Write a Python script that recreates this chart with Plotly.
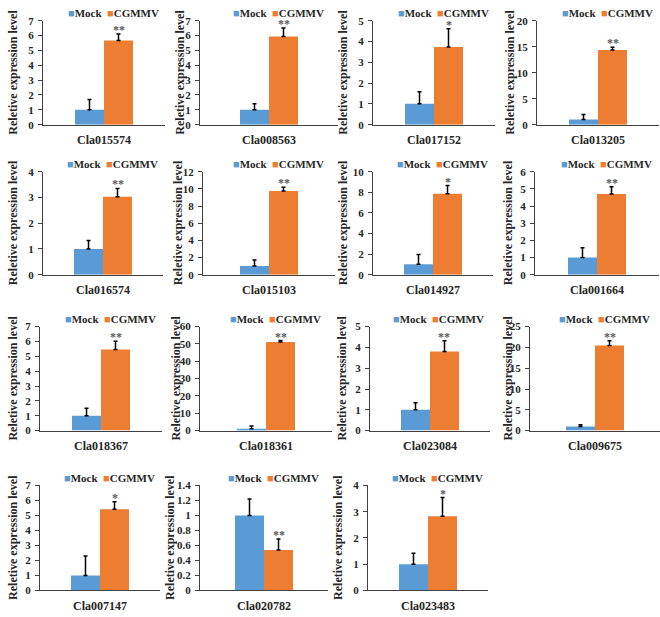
import plotly.graph_objects as go

genes = ["Cla015574", "Cla008563", "Cla017152", "Cla013205",
         "Cla016574", "Cla015103", "Cla014927", "Cla001664",
         "Cla018367", "Cla018361", "Cla023084", "Cla009675",
         "Cla007147", "Cla020782", "Cla023483"]
mock = [1, 1, 1, 1, 1, 1, 1, 1, 1, 1, 1, 1, 1, 1, 1]
mock_err = [0.7, 0.41, 0.58, 0.95, 0.33, 0.7, 0.95, 0.57, 0.5, 1.7, 0.34, 0.4, 1.3, 0.22, 0.42]
cgmmv = [5.67, 5.94, 3.74, 14.35, 3.03, 9.74, 7.86, 4.7, 5.46, 51.2, 3.8, 20.45, 5.42, 0.54, 2.83]
cgmmv_err = [0.44, 0.57, 0.87, 0.55, 0.32, 0.45, 0.79, 0.43, 0.55, 0.8, 0.52, 1.15, 0.5, 0.145, 0.71]
signif = ["**", "**", "*", "**", "**", "**", "*", "**", "**", "**", "**", "**", "*", "**", "*"]
y_max = [7, 7, 5, 20, 4, 12, 10, 6, 7, 60, 5, 25, 7, 1.4, 4]
y_step = [1, 1, 1, 5, 1, 2, 2, 1, 1, 10, 1, 5, 1, 0.2, 1]

# panel geometry in pixels (figure is 660 x 617)
W, H = 660, 617
rows_px = [(15, 121), (169, 274), (327, 433), (489, 596)]
cols_px = [
    [(43, 165), (200, 338), (373, 495), (537, 659)],
    [(43, 163), (203, 335), (373, 493), (535, 659)],
    [(40, 162), (200, 332), (370, 490), (530, 660)],
    [(40, 160), (200, 328), (368, 488)],
]
ylab_px = [[13, 180, 343, 510], [13, 178, 343, 508], [13, 176, 342, 508], [13, 170, 338]]
BAR_PX = 29

BLUE = "#5B9BD5"
ORANGE = "#ED7D31"
FONT = "Liberation Serif"
TXT = "#262626"

fig = go.Figure()
layout = dict(width=W, height=H, margin=dict(l=0, r=0, t=0, b=0),
              plot_bgcolor="white", paper_bgcolor="white",
              showlegend=False, barmode="overlay")
annotations = []

i = 0
for r, row in enumerate(cols_px):
    top, bot = rows_px[r]
    for c, (left, right) in enumerate(row):
        n = "" if i == 0 else str(i + 1)
        w = BAR_PX / (right - left)
        xa, ya = "x" + n, "y" + n
        fig.add_trace(go.Bar(
            x=[genes[i]], y=[mock[i]], xaxis=xa, yaxis=ya,
            width=w, offset=-w, marker=dict(color=BLUE, line=dict(width=0)),
            error_y=dict(type="data", array=[mock_err[i]], arrayminus=[0],
                         symmetric=False, color="black", thickness=1.5, width=2),
            name="Mock"))
        fig.add_trace(go.Bar(
            x=[genes[i]], y=[cgmmv[i]], xaxis=xa, yaxis=ya,
            width=w, offset=0, marker=dict(color=ORANGE, line=dict(width=0)),
            error_y=dict(type="data", array=[cgmmv_err[i]], arrayminus=[0],
                         symmetric=False, color="black", thickness=1.5, width=2),
            name="CGMMV"))
        layout["xaxis" + n] = dict(
            domain=[left / W, right / W], anchor=ya, type="category",
            range=[-0.5, 0.5], showline=True, linecolor="#404040", linewidth=1.3,
            ticks="", showgrid=False, ticklabelstandoff=4,
            tickfont=dict(family=FONT, size=12, color=TXT, weight="bold"))
        layout["yaxis" + n] = dict(
            domain=[1 - bot / H, 1 - top / H], anchor=xa,
            range=[0, y_max[i]], dtick=y_step[i], tick0=0,
            showline=True, linecolor="#404040", linewidth=1.3,
            ticks="outside", ticklen=4, tickcolor="#404040", showgrid=False,
            zeroline=False, ticklabelstandoff=2,
            tickfont=dict(family=FONT, size=11, color=TXT, weight="bold"))
        # y-axis label
        annotations.append(dict(
            xref="paper", yref="paper", x=ylab_px[r][c] / W,
            y=1 - (top + bot) / 2 / H, text="Reletive expression level",
            textangle=-90, showarrow=False, xanchor="center", yanchor="middle",
            font=dict(family=FONT, size=12, color=TXT, weight="bold")))
        # significance marks
        annotations.append(dict(
            xref=xa, yref=ya, x=w / 2, y=cgmmv[i] + cgmmv_err[i],
            text=signif[i], showarrow=False, xanchor="center", yanchor="bottom",
            yshift=-5, font=dict(family=FONT, size=12, color="#595959", weight="bold")))
        # legend
        annotations.append(dict(
            xref=xa, yref="paper", x=0, y=1 - (top - 8) / H, xshift=9,
            text=("<span style='color:%s'>■</span>Mock  <span style='color:%s'>■</span>CGMMV"
                  % (BLUE, ORANGE)),
            showarrow=False, xanchor="center", yanchor="middle",
            font=dict(family=FONT, size=11, color=TXT, weight="bold")))
        i += 1

layout["annotations"] = annotations
fig.update_layout(**layout)
fig.write_html("out.html", config={"displayModeBar": False},
               post_script="document.body.style.margin='0';")
